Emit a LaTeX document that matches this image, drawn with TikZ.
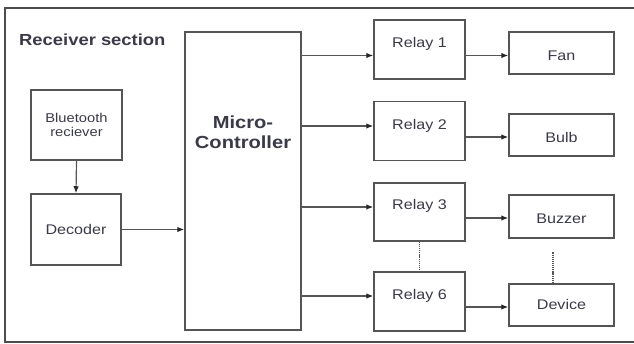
\documentclass[tikz,border=0pt]{standalone}
\usepackage{fontspec}
\setmainfont{Liberation Sans}[FakeStretch=1.15]
\usetikzlibrary{arrows.meta}
\definecolor{ln}{HTML}{555555}
\definecolor{tx}{HTML}{3A3A48}
\tikzset{
  box/.style={draw=ln, line width=1.5pt, fill=white, inner sep=0pt},
  frame/.style={draw=ln!90!black, line width=2pt},
  lbl/.style={text=tx, font=\fontsize{14}{16}\selectfont, inner sep=0pt},
  arr/.style={draw=ln, line width=1.2pt, -{Latex[length=7pt,width=5.5pt,fill=black!85,color=black!85]}},
  dots/.style={draw=ln, line width=1.4pt, dash pattern=on 1.2pt off 0.9pt},
}
\begin{document}
\begin{tikzpicture}[x=1pt,y=-1pt]
\useasboundingbox (0,0) rectangle (634,344);
\clip (0,0) rectangle (634,344);
\draw[frame] (5,8) -- (5,342) -- (645,342) -- (645,8) -- cycle;
\node[lbl, anchor=west, font=\bfseries\fontsize{16}{18}\selectfont] (title) at (19,40) {Receiver section};
% left column
\node[box, minimum width=91pt, minimum height=70pt] (bt) at (76.5,125) {};
\node[lbl, align=center, font=\fontsize{12.8}{14.3}\selectfont] (btt) at (bt.center) {Bluetooth\\reciever};
\node[box, minimum width=90pt, minimum height=71pt] (dec) at (76,229.5) {};
\node[lbl] (dect) at (dec.center) {Decoder};
% microcontroller
\node[box, minimum width=116pt, minimum height=298pt] (mc) at (243,181) {};
\node[lbl, align=center, font=\bfseries\fontsize{17.5}{19.5}\selectfont] (mct) at ([yshift=-101pt]mc.north) {Micro-\\Controller};
% relays
\node[box, minimum width=91pt, minimum height=59pt] (r1) at (419.5,49.5) {};
\node[box, minimum width=91pt, minimum height=59pt] (r2) at (419.5,131) {};
\node[box, minimum width=91pt, minimum height=58pt] (r3) at (419.5,212) {};
\node[box, minimum width=91pt, minimum height=59pt] (r6) at (419.5,301.5) {};
\node[lbl] (r1t) at ([yshift=-25pt]r1.north) {Relay 1};
\node[lbl] (r2t) at ([yshift=-25pt]r2.north) {Relay 2};
\node[lbl] (r3t) at ([yshift=-24pt]r3.north) {Relay 3};
\node[lbl] (r6t) at ([yshift=-25pt]r6.north) {Relay 6};
% devices
\node[box, minimum width=105pt, minimum height=42pt] (fan) at (561.5,53) {};
\node[box, minimum width=105pt, minimum height=42pt] (bulb) at (561.5,135) {};
\node[box, minimum width=105pt, minimum height=43pt] (buz) at (561.5,216.5) {};
\node[box, minimum width=105pt, minimum height=42pt] (dev) at (561.5,305) {};
\node[lbl] (fant) at ([yshift=-3pt]fan.center) {Fan};
\node[lbl] (bulbt) at ([yshift=-2.5pt]bulb.center) {Bulb};
\node[lbl] (buzt) at ([yshift=-2.5pt]buz.center) {Buzzer};
\node[lbl] (devt) at ([yshift=1pt]dev.center) {Device};
% connectors
\coordinate (y1) at (0,55.5);
\coordinate (y2) at (0,126);
\coordinate (y3) at (0,207);
\coordinate (y6) at (0,296);
\coordinate (o1) at (0,55.5);
\coordinate (o2) at (0,137);
\coordinate (o3) at (0,218);
\coordinate (o6) at (0,307);
\draw[arr] (bt.south) -- (dec.north);
\draw[arr] (dec.east |- dect) -- (mc.west |- dect);
\draw[arr] (mc.east |- y1) -- (r1.west |- y1);
\draw[arr] (mc.east |- y2) -- (r2.west |- y2);
\draw[arr] (mc.east |- y3) -- (r3.west |- y3);
\draw[arr] (mc.east |- y6) -- (r6.west |- y6);
\draw[arr] (r1.east |- o1) -- (fan.west |- o1);
\draw[arr] (r2.east |- o2) -- (bulb.west |- o2);
\draw[arr] (r3.east |- o3) -- (buz.west |- o3);
\draw[arr] (r6.east |- o6) -- (dev.west |- o6);
\draw[dots] (r3.south) -- (r6.north);
\coordinate (dtop) at (553,252.5);
\draw[dots] (dtop) -- (dtop |- dev.north);
\end{tikzpicture}
\end{document}
